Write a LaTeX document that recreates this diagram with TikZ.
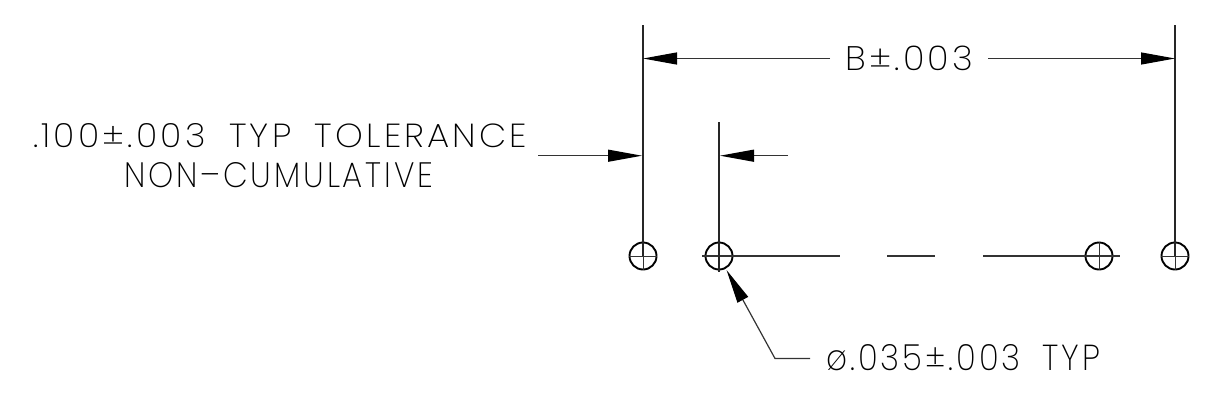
\documentclass[tikz,border=0pt]{standalone}
\usepackage{fontspec}
\usepackage{graphicx}
\setmainfont{Poppins}[UprightFont=* ExtraLight,LetterSpace=9,WordSpace=1.8]
\usetikzlibrary{arrows.meta}
\tikzset{
  dimline/.style={line width=1.2pt,color=black!80},
  extline/.style={line width=1.1pt,color=black!85},
  dimtip/.style={-{Triangle[length=34pt,width=12pt,color=black]}},
  hole/.style={circle,draw,line width=1.9pt,minimum size=27pt,inner sep=0pt},
  crossline/.style={line width=0.9pt,color=black!80},
  label/.style={inner sep=0pt,anchor=south west}
}
\newcommand{\fittext}[3]{\resizebox{#1pt}{#2pt}{#3}}
\begin{document}
\begin{tikzpicture}[x=1pt,y=-1pt]
\useasboundingbox (0,0) rectangle (1209,405);
% holes
\node[hole] (h1) at (643,256) {};
\node[hole] (h2) at (719,256) {};
\node[hole] (h3) at (1099,256) {};
\node[hole] (h4) at (1175,256) {};
% hole crosses
\draw[crossline] (h1.west) -- (h1.east);
\draw[crossline] (h1.north) -- (h1.south);
\draw[crossline] (h3.north) -- (h3.south);
\draw[crossline] (h4.west) -- (h4.east);
\draw[crossline] (h4.north) -- (h4.south);
% centre line
\coordinate (c1) at (702,256); \coordinate (c2) at (840,256);
\coordinate (c3) at (887,256); \coordinate (c4) at (935,256);
\coordinate (c5) at (983,256); \coordinate (c6) at (1120,256);
\draw[dimline,line width=1.3pt] (c1) -- (c2);
\draw[dimline,line width=1.3pt] (c3) -- (c4);
\draw[dimline,line width=1.3pt] (c5) -- (c6);
% extension lines
\coordinate (e1) at (643,25);
\coordinate (e4) at (1175,25);
\coordinate (e2) at (719,122);
\coordinate (e2b) at (719,272);
\coordinate (e1m) at (643,122);
\draw[extline] (e1) -- (h1.center);
\draw[extline,line width=1.5pt] (e1m) -- (h1.center);
\draw[extline] (e4) -- (h4.center);
\draw[extline] (e2) -- (e2b);
% labels
\node[label] (t1) at (33,148) {\fittext{494}{24}{.100±.003 TYP TOLERANCE}};
\node[label] (t2) at (124,188) {\fittext{309}{25}{NON–CUMULATIVE}};
\node[label] (t3) at (845,71) {\fittext{128}{24.5}{B±.003}};
\node[label] (t4) at (826,371) {\fittext{274}{26}{ø.035±.003 TYP}};
% dimension B
\coordinate (ba) at (830,58.5); \coordinate (bt1) at (643,58.5);
\coordinate (bb) at (988,58.5); \coordinate (bt2) at (1175,58.5);
\draw[dimline,dimtip] (ba) -- (bt1);
\draw[dimline,dimtip] (bb) -- (bt2);
% pitch arrows
\coordinate (p1) at (538,155.7); \coordinate (p1t) at (642,155.7);
\coordinate (p2) at (788,155.7); \coordinate (p2t) at (720,155.7);
\draw[dimline,dimtip] (p1) -- (p1t);
\draw[dimline,dimtip] (p2) -- (p2t);
% leader
\coordinate (l0) at (810,358.5); \coordinate (l1) at (775,358.5);
\coordinate (l2) at (726.5,270);
\draw[dimline,dimtip] (l0) -- (l1) -- (l2);
\end{tikzpicture}
\end{document}
